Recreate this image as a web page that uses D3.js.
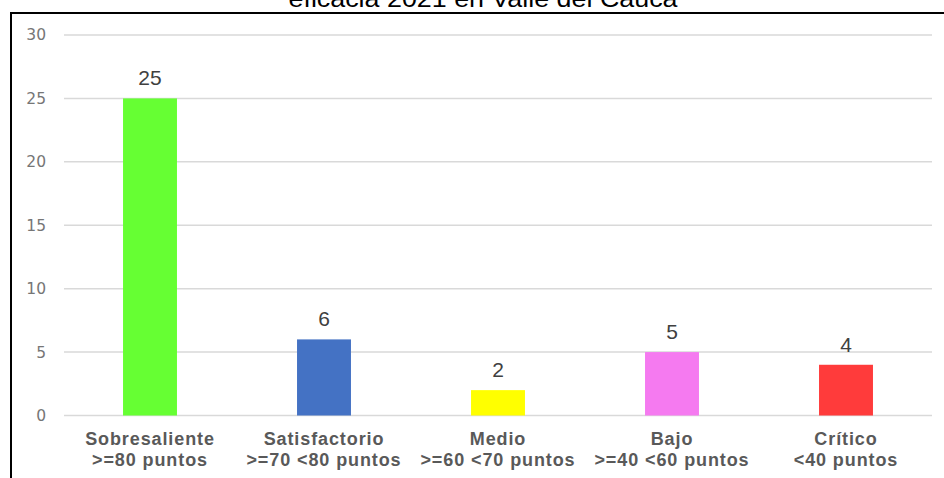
<!DOCTYPE html>
<html>
<head>
<meta charset="utf-8">
<script src="https://cdn.jsdelivr.net/npm/d3@7"></script>
<style>
  body { margin: 0; background: #fff; }
  svg { display: block; }
</style>
</head>
<body>
<div id="chart"></div>
<script>
// data
let categories = ["Sobresaliente", "Satisfactorio", "Medio", "Bajo", "Crítico"];
let subLabels = [">=80 puntos", ">=70 <80 puntos", ">=60 <70 puntos", ">=40 <60 puntos", "<40 puntos"];
let values = [25, 6, 2, 5, 4];
let barColors = ["#66ff33", "#4472c4", "#ffff00", "#f57af0", "#ff3b3b"];
let yTicks = [0, 5, 10, 15, 20, 25, 30];
let title = "eficacia 2021 en Valle del Cauca";

let W = 944, H = 478;
let svg = d3.select("#chart").append("svg").attr("width", W).attr("height", H);

// frame (left + top edges visible)
svg.append("line").attr("x1", 11).attr("x2", 11).attr("y1", 12).attr("y2", H).attr("stroke", "#000").attr("stroke-width", 2);
svg.append("line").attr("x1", 10).attr("x2", W).attr("y1", 13).attr("y2", 13).attr("stroke", "#000").attr("stroke-width", 2);

// title, clipped at the top
svg.append("text")
    .attr("x", 483).attr("y", 7)
    .attr("text-anchor", "middle")
    .attr("font-family", "Liberation Sans, Arial, sans-serif")
    .attr("font-size", 24)
    .attr("fill", "#000")
    .attr("textLength", 389)
    .attr("lengthAdjust", "spacingAndGlyphs")
    .text(title);

let xScale = d3.scaleBand().domain(categories).range([63, 933]).paddingInner(0.69).paddingOuter(0.345);
let yScale = d3.scaleLinear().domain([0, 30]).range([415.5, 35]);

// gridlines
svg.append("g").selectAll("line").data(yTicks).enter().append("line")
    .attr("x1", 64).attr("x2", 932)
    .attr("y1", d => yScale(d)).attr("y2", d => yScale(d))
    .attr("stroke", "#d9d9d9").attr("stroke-width", 1.5);

// y axis labels
let yAxis = svg.append("g").attr("transform", "translate(46,0)")
    .call(d3.axisLeft(yScale).tickValues(yTicks).tickSize(0).tickPadding(0));
yAxis.select(".domain").remove();
yAxis.selectAll("text")
    .attr("font-family", "DejaVu Sans, sans-serif")
    .attr("font-size", 15.5)
    .attr("fill", "#767676");

// bars
svg.append("g").selectAll("rect").data(values).enter().append("rect")
    .attr("x", (d, i) => xScale(categories[i]))
    .attr("width", xScale.bandwidth())
    .attr("y", d => yScale(d))
    .attr("height", d => yScale(0) - yScale(d))
    .attr("fill", (d, i) => barColors[i]);

// value labels
svg.append("g").selectAll("text").data(values).enter().append("text")
    .attr("x", (d, i) => xScale(categories[i]) + xScale.bandwidth() / 2)
    .attr("y", d => yScale(d) - 13)
    .attr("text-anchor", "middle")
    .attr("font-family", "Liberation Sans, Arial, sans-serif")
    .attr("font-size", 21)
    .attr("fill", "#404040")
    .text(d => d);

// category labels
let catG = svg.append("g").selectAll("text").data(categories).enter().append("text")
    .attr("text-anchor", "middle")
    .attr("font-family", "Liberation Sans, Arial, sans-serif")
    .attr("font-weight", "bold")
    .attr("font-size", 18)
    .attr("letter-spacing", 0.9)
    .attr("fill", "#595959");
catG.append("tspan").attr("x", d => xScale(d) + xScale.bandwidth() / 2).attr("y", 445).text(d => d);
catG.append("tspan").attr("x", d => xScale(d) + xScale.bandwidth() / 2).attr("y", 466).text((d, i) => subLabels[i]);
</script>
</body>
</html>
